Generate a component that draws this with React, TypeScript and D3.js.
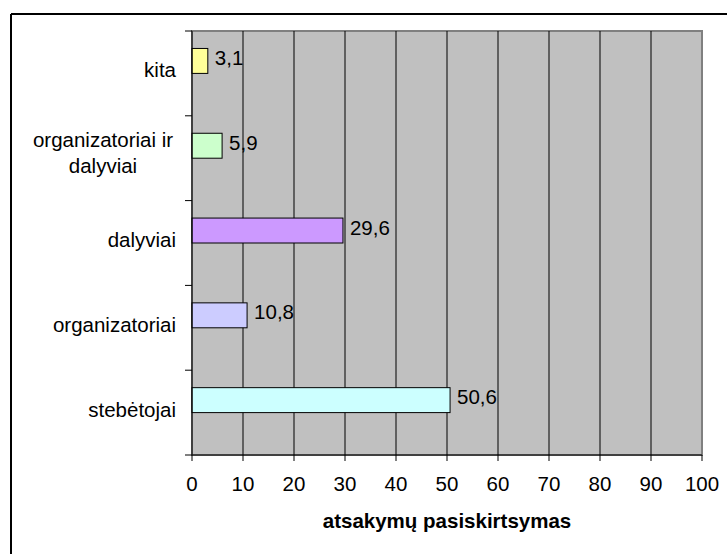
import React from "react";
import * as d3 from "d3";

const categories = ["kita", "organizatoriai ir dalyviai", "dalyviai", "organizatoriai", "stebėtojai"];
const categoryLines = [["kita"], ["organizatoriai ir", "dalyviai"], ["dalyviai"], ["organizatoriai"], ["stebėtojai"]];
const values = [3.1, 5.9, 29.6, 10.8, 50.6];
const valueLabels = ["3,1", "5,9", "29,6", "10,8", "50,6"];
const barColors = ["#FFFF99", "#CCFFCC", "#CC99FF", "#CCCCFF", "#CCFFFF"];
const xTicks = [0, 10, 20, 30, 40, 50, 60, 70, 80, 90, 100];
const axisTitle = "atsakymų pasiskirtsymas";

const W = 727;
const H = 554;
const plot = { left: 192, right: 702, top: 31, bottom: 455 };
const FONT = "'Liberation Sans', Arial, sans-serif";
const FS = 20.5;

export default function App() {
  const x = d3.scaleLinear().domain([0, 100]).range([plot.left, plot.right]);
  const y = d3.scaleBand<string>().domain(categories).range([plot.top, plot.bottom]).padding(0);
  const sub = d3
    .scaleBand<string>()
    .domain(["s1", "s2"])
    .range([0, y.bandwidth()])
    .paddingInner(0)
    .paddingOuter(0.7);
  const bounds = [...categories.map((c) => y(c) as number), plot.bottom];

  return (
    <svg
      width={W}
      height={H}
      style={{ position: "absolute", left: 0, top: 0, display: "block" }}
      fontFamily={FONT}
    >
      <rect x={0} y={0} width={W} height={H} fill="#fff" />
      {/* outer chart border (clipped at right/bottom) */}
      <line x1={11} y1={14} x2={W} y2={14} stroke="#000" strokeWidth={2} />
      <line x1={11} y1={14} x2={11} y2={H} stroke="#000" strokeWidth={2} />

      {/* plot area */}
      <rect
        x={plot.left}
        y={plot.top}
        width={plot.right - plot.left}
        height={plot.bottom - plot.top}
        fill="#C0C0C0"
        stroke="#808080"
        strokeWidth={2}
      />
      {xTicks
        .filter((t) => t > 0 && t < 100)
        .map((t) => (
          <line key={"g" + t} x1={x(t)} x2={x(t)} y1={plot.top} y2={plot.bottom} stroke="#000" strokeWidth={1} />
        ))}

      {/* bars */}
      {categories.map((c, i) => {
        const by = (y(c) as number) + (sub("s1") as number);
        return (
          <g key={c}>
            <rect
              x={x(0)}
              y={by}
              width={x(values[i]) - x(0)}
              height={sub.bandwidth()}
              fill={barColors[i]}
              stroke="#000"
              strokeWidth={1}
            />
            <text x={x(values[i]) + 7} y={by + sub.bandwidth() / 2 + 4} fontSize={FS} fill="#000">
              {valueLabels[i]}
            </text>
          </g>
        );
      })}

      {/* axes */}
      <line x1={plot.left} x2={plot.left} y1={plot.top} y2={plot.bottom} stroke="#000" strokeWidth={1} />
      <line x1={plot.left} x2={plot.right} y1={plot.bottom} y2={plot.bottom} stroke="#000" strokeWidth={1} />
      {bounds.map((b, i) => (
        <line key={"yt" + i} x1={plot.left - 7} x2={plot.left} y1={b} y2={b} stroke="#000" strokeWidth={1} />
      ))}
      {xTicks.map((t) => (
        <g key={"xt" + t}>
          <line x1={x(t)} x2={x(t)} y1={plot.bottom} y2={plot.bottom + 6} stroke="#000" strokeWidth={1} />
          <text x={x(t)} y={plot.bottom + 36} textAnchor="middle" fontSize={FS} fill="#000">
            {t}
          </text>
        </g>
      ))}

      {/* category labels */}
      {categories.map((c, i) => {
        const cy = (y(c) as number) + y.bandwidth() / 2;
        const lines = categoryLines[i];
        if (lines.length === 1) {
          return (
            <text key={"cl" + c} x={176} y={cy + 4} textAnchor="end" fontSize={FS} fill="#000">
              {lines[0]}
            </text>
          );
        }
        return (
          <text key={"cl" + c} x={103} y={cy - 11.5} textAnchor="middle" fontSize={FS} fill="#000">
            {lines.map((l, k) => (
              <tspan key={k} x={103} dy={k === 0 ? 0 : 26}>
                {l}
              </tspan>
            ))}
          </text>
        );
      })}

      <text
        x={(plot.left + plot.right) / 2}
        y={528}
        textAnchor="middle"
        fontSize={FS}
        fontWeight="bold"
        fill="#000"
      >
        {axisTitle}
      </text>
    </svg>
  );
}
